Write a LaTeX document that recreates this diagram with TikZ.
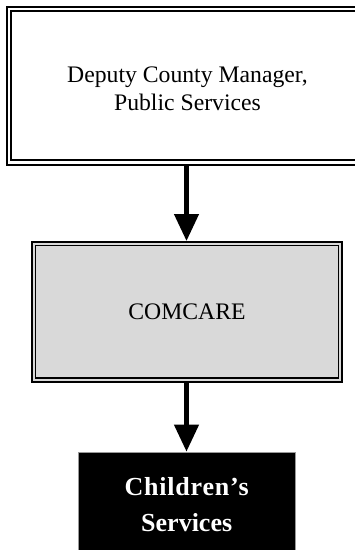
\documentclass[tikz,border=0pt]{standalone}
\usepackage{fontspec}
\setmainfont{Liberation Serif}
\usetikzlibrary{arrows.meta}
\definecolor{boxgray}{HTML}{D9D9D9}
\tikzset{
  orgbox/.style={draw=black, line width=2pt, rectangle, inner sep=0pt, align=center,
    font=\fontsize{23.7}{28}\selectfont},
  leafbox/.style={draw=black!40, fill=black, line width=0.8pt, rectangle, inner sep=0pt, align=center,
    text=white, font=\fontsize{26}{36}\selectfont\bfseries},
  inner line/.style={draw=black, line width=1.4pt},
  conn/.style={line width=4.5pt, -{Triangle[length=27pt,width=24pt]}}
}
\begin{document}
\begin{tikzpicture}[x=1pt,y=1pt]
\useasboundingbox (0,0) rectangle (355,-550);
\clip (0,0) rectangle (355,-550);
\node[orgbox, minimum width=361pt, minimum height=158.5pt] (dcm) at (187.5,-85.75)
  {\raisebox{-3pt}[\height][\depth]{\parbox{300pt}{\centering Deputy County Manager,\\ Public Services}}};
\draw[inner line] ([shift={(5,-5.5)}]dcm.north west) rectangle ([shift={(-5,6)}]dcm.south east);
\node[orgbox, fill=boxgray, minimum width=310pt, minimum height=140pt] (com) at (187,-312) {COMCARE};
\draw[inner line] ([shift={(4.5,-4.5)}]com.north west) rectangle ([shift={(-4.5,5)}]com.south east);
\node[leafbox, minimum width=217pt, minimum height=106pt] (chs) at (186.7,-505)
  {\addfontfeature{LetterSpace=3}Children’s\\ Services};
\draw[conn] (dcm.south -| 186.5,0) -- (com.north -| 186.5,0);
\draw[conn] (com.south -| 186.5,0) -- (chs.north -| 186.5,0);
\end{tikzpicture}
\end{document}
